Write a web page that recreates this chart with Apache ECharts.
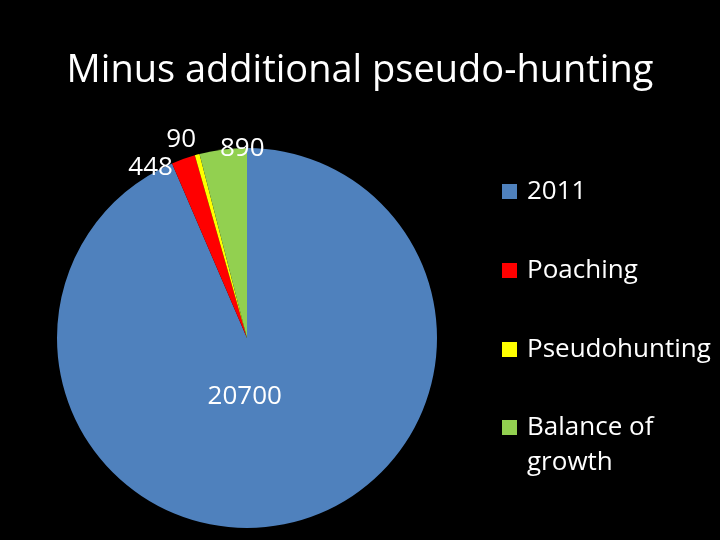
<!DOCTYPE html>
<html>
<head>
<meta charset="utf-8">
<script src="https://cdn.jsdelivr.net/npm/echarts@6/dist/echarts.min.js"></script>
<style>
  html, body { margin: 0; padding: 0; background: #000; }
  #box { width: 720px; height: 540px; }
</style>
</head>
<body>
<div id="box"></div>
<script>
// data
var categories = ['2011', 'Poaching', 'Pseudohunting', 'Balance of growth'];
var values = [20700, 448, 90, 890];
var colors = ['#4F81BD', '#FF0000', '#FFFF00', '#92D050'];

var FONT = 'Open Sans';

var pieData = categories.map(function (name, i) {
  var item = { name: name, value: values[i], itemStyle: { color: colors[i] } };
  if (i === 0) {
    item.label = { position: 'inside' };
  }
  return item;
});

var legendText = {
  color: '#ffffff',
  fontFamily: FONT,
  fontSize: 26,
  lineHeight: 35,
  rich: {
    t: { color: '#ffffff', fontFamily: FONT, fontSize: 26, lineHeight: 35, padding: [0, 0, 0, 5] }
  }
};

var myChart = echarts.init(document.getElementById('box'));
var option = {
  backgroundColor: '#000000',
  animation: false,
  title: {
    text: 'Minus additional pseudo-hunting',
    left: 'center',
    top: 43,
    textStyle: {
      color: '#ffffff',
      fontFamily: FONT,
      fontWeight: 'normal',
      fontSize: 38,
      lineHeight: 46
    }
  },
  legend: [
    {
      orient: 'vertical',
      left: 502,
      top: 174,
      height: 260,
      padding: 0,
      itemWidth: 15,
      itemHeight: 15,
      itemGap: 44,
      icon: 'rect',
      data: categories.slice(0, 3),
      formatter: '{t|{name}}',
      textStyle: legendText
    },
    {
      // blank first line so the icon sits beside "Balance of"
      orient: 'vertical',
      left: 502,
      top: 375,
      height: 160,
      padding: 0,
      itemWidth: 15,
      itemHeight: 15,
      icon: 'rect',
      data: [categories[3]],
      formatter: function (name) {
        var lines = name.replace('of ', 'of\n').split('\n');
        return '{t|}\n' + lines.map(function (s) { return '{t|' + s + '}'; }).join('\n');
      },
      textStyle: legendText
    }
  ],
  series: [
    {
      type: 'pie',
      center: [247, 338],
      radius: 190,
      startAngle: 90,
      clockwise: true,
      avoidLabelOverlap: false,
      label: {
        show: true,
        position: 'outside',
        formatter: '{c}',
        color: '#ffffff',
        fontFamily: FONT,
        fontSize: 26
      },
      labelLine: { show: false, length: 4, length2: 0 },
      labelLayout: function (params) {
        var shifts = [[-22, -37], [-4, 12], [5, -11], [47, 3]];
        return { dx: shifts[params.dataIndex][0], dy: shifts[params.dataIndex][1] };
      },
      itemStyle: { borderWidth: 0 },
      data: pieData
    }
  ]
};
myChart.setOption(option);
</script>
</body>
</html>
